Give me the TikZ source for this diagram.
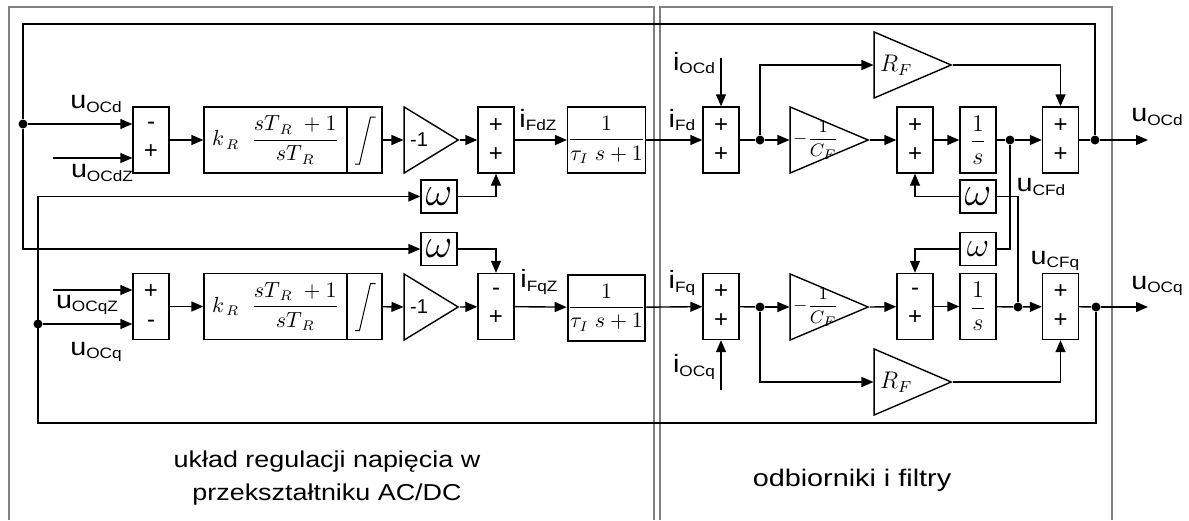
\documentclass[tikz,border=0pt]{standalone}
\usepackage{amsmath}
\usepackage{fontspec}
\setsansfont{Liberation Sans}
\usetikzlibrary{shapes.geometric,arrows.meta}

% signal name: letter with a lowered subscript in sans
\newcommand{\sig}[2]{\scalebox{1.15}[1]{\sffamily\fontsize{12.5}{12.5}\selectfont #1\raisebox{-1.6pt}{\fontsize{7.5}{7.5}\selectfont #2}}}
% integrator symbol inside the small box
\newcommand{\integ}[1]{\draw[line width=0.5pt] ([shift={(-9.5,24)}]#1.center) -- ++(4.5,0) -- ++(11,-47) -- ++(5,0);}

\begin{document}
\begin{tikzpicture}[x=0.5pt,y=-0.5pt,line width=0.7pt,>={Triangle[length=6pt,width=5pt]},
	sumbox/.style={draw,minimum width=18pt,minimum height=33pt,inner sep=0pt,align=center,font=\sffamily\fontsize{12}{14.5}\selectfont},
	tfbox/.style={draw,minimum height=33pt,inner sep=0pt,font=\fontsize{10.5}{12}\selectfont},
	wbox/.style={draw,minimum width=18pt,minimum height=16.5pt,inner sep=0pt,font=\fontsize{20}{20}\selectfont},
	gain/.style={draw,isosceles triangle,isosceles triangle stretches,inner sep=0pt,minimum width=33pt},
	gaintext/.style={anchor=west,inner sep=0pt},
	junct/.style={circle,fill,inner sep=0pt,minimum size=4.5pt},
	panel/.style={draw=gray,line width=0.8pt}]
	\useasboundingbox (0,0) rectangle (1189,520);

	% frames
	\draw[panel] (9,520) |- (654,7) -- (654,520);
	\draw[panel] (660,520) |- (1112,7) -- (1112,520);
	\coordinate (loopT) at (23,24);
	\coordinate (loopB) at (38,423);

	% voltage controller, d axis
	\node[junct] (dotLd) at (23,124) {};
	\coordinate (inLdZ) at (53,158);
	\node[sumbox] (sumLd) at (151,140) {-\\+};
	\node[tfbox,minimum width=71.5pt] (piLd) at (275.5,140) {$k_{\,R}\;\;\dfrac{sT_{\,R}\;+1}{sT_{\,R}}$};
	\node[tfbox,minimum width=17.5pt] (intLd) at (364.5,140) {};
	\integ{intLd}
	\node[gain,anchor=apex,minimum height=27pt] (gainLd) at (460,140) {};
	\node[gaintext,font=\sffamily\fontsize{10}{10}\selectfont] (txGainLd) at ([xshift=3pt]gainLd.lower side) {-1};
	\node[sumbox] (sumL2d) at (496,140) {+\\+};
	\node[tfbox,minimum width=35.5pt] (tfLd) at (606.5,140) {$\dfrac{1}{\tau_{I}\;s+1}$};
	\node[wbox] (omegaLd) at (439,196.5) {$\omega$};

	% voltage controller, q axis
	\node[junct] (dotLq) at (38,324) {};
	\coordinate (inLqZ) at (53,290);
	\node[sumbox] (sumLq) at (151,306.5) {+\\-};
	\node[tfbox,minimum width=71.5pt] (piLq) at (275.5,306.5) {$k_{\,R}\;\;\dfrac{sT_{\,R}\;+1}{sT_{\,R}}$};
	\node[tfbox,minimum width=17.5pt] (intLq) at (364.5,306.5) {};
	\integ{intLq}
	\node[gain,anchor=apex,minimum height=27pt] (gainLq) at (460,307) {};
	\node[gaintext,font=\sffamily\fontsize{10}{10}\selectfont] (txGainLq) at ([xshift=3pt]gainLq.lower side) {-1};
	\node[sumbox] (sumL2q) at (496,306.5) {-\\+};
	\node[tfbox,minimum width=35.5pt,line width=1pt] (tfLq) at (606.5,307.5) {$\dfrac{1}{\tau_{I}\;s+1}$};
	\node[wbox] (omegaLq) at (439,249) {$\omega$};

	% loads and filters, d axis
	\coordinate (inRd) at (721,58);
	\node[sumbox] (sumRd1) at (721,140) {+\\+};
	\node[junct] (dotRd1) at (760,140) {};
	\node[gain,anchor=apex,minimum height=39pt] (cfd) at (870,140) {};
	\node[gaintext,font=\fontsize{9.5}{10}\selectfont] (txCfd) at ([xshift=1.5pt]cfd.lower side) {$-\dfrac{1}{C_F}$};
	\node[gain,anchor=apex,minimum height=38.5pt] (rfd) at (953,65) {};
	\node[gaintext,font=\fontsize{12}{12}\selectfont] (txRfd) at ([xshift=3pt]rfd.lower side) {$R_F$};
	\node[sumbox] (sumRd2) at (915,140) {+\\+};
	\node[tfbox,minimum width=18pt,font=\fontsize{13}{14}\selectfont] (intRd) at (978,140) {$\dfrac{1}{s}$};
	\node[junct] (dotRd2) at (1010,140) {};
	\node[sumbox] (sumRd3) at (1060.5,140) {+\\+};
	\node[junct] (dotRd3) at (1095,140) {};
	\coordinate (outRd) at (1148,140);
	\node[wbox] (omegaRd) at (978,196.5) {$\omega$};

	% loads and filters, q axis
	\coordinate (inRq) at (721,390);
	\node[sumbox] (sumRq1) at (721,306.5) {+\\+};
	\node[junct] (dotRq1) at (760,307) {};
	\node[gain,anchor=apex,minimum height=39pt] (cfq) at (870,307) {};
	\node[gaintext,font=\fontsize{9.5}{10}\selectfont] (txCfq) at ([xshift=1.5pt]cfq.lower side) {$-\dfrac{1}{C_F}$};
	\node[gain,anchor=apex,minimum height=38.5pt] (rfq) at (953,382) {};
	\node[gaintext,font=\fontsize{12}{12}\selectfont] (txRfq) at ([xshift=3pt]rfq.lower side) {$R_F$};
	\node[sumbox] (sumRq2) at (915,306.5) {-\\+};
	\node[tfbox,minimum width=18pt,font=\fontsize{13}{14}\selectfont] (intRq) at (978,306.5) {$\dfrac{1}{s}$};
	\node[junct] (dotRq2) at (1018,307) {};
	\node[sumbox] (sumRq3) at (1060.5,306.5) {+\\+};
	\node[junct] (dotRq3) at (1096,307) {};
	\coordinate (outRq) at (1148,307);
	\node[wbox,font=\fontsize{16}{16}\selectfont] (omegaRq) at (978,249) {$\omega$};

	% connections, d axis
	\draw[->] (dotLd) -- (dotLd -| sumLd.west);
	\draw[->] (inLdZ) -- (inLdZ -| sumLd.west);
	\draw[->] (sumLd) -- (piLd);
	\draw[->] (intLd) -- (gainLd.lower side);
	\draw[->] (gainLd.apex) -- (sumL2d);
	\draw[->] (sumL2d) -- (tfLd);
	\draw[->] (omegaLd) -| (sumL2d);
	\draw[->] (tfLd) -- (sumRd1);
	\draw[->] (inRd) -- (sumRd1);
	\draw (sumRd1) -- (dotRd1);
	\draw[->] (dotRd1) -- (cfd.lower side);
	\draw[->] (dotRd1) |- (rfd.lower side);
	\draw[->] (cfd.apex) -- (sumRd2);
	\draw[->] (rfd.apex) -| (sumRd3);
	\draw[->] (sumRd2) -- (intRd);
	\draw (intRd) -- (dotRd2);
	\draw[->] (dotRd2) -- (sumRd3);
	\draw (sumRd3) -- (dotRd3);
	\draw[->] (dotRd3) -- (outRd);
	\draw (dotRd2) |- (omegaRq);
	\draw[->] (omegaRd) -| (sumRd2);

	% connections, q axis
	\draw[->] (dotLq) -- (dotLq -| sumLq.west);
	\draw[->] (inLqZ) -- (inLqZ -| sumLq.west);
	\draw[->] (sumLq) -- (piLq);
	\draw[->] (intLq) -- (gainLq.lower side);
	\draw[->] (gainLq.apex) -- (sumL2q);
	\draw[->] (sumL2q) -- (tfLq);
	\draw[->] (omegaLq) -| (sumL2q);
	\draw[->] (tfLq) -- (sumRq1);
	\draw[->] (inRq) -- (sumRq1);
	\draw (sumRq1) -- (dotRq1);
	\draw[->] (dotRq1) -- (cfq.lower side);
	\draw[->] (dotRq1) |- (rfq.lower side);
	\draw[->] (cfq.apex) -- (sumRq2);
	\draw[->] (rfq.apex) -| (sumRq3);
	\draw[->] (sumRq2) -- (intRq);
	\draw (intRq) -- (dotRq2);
	\draw[->] (dotRq2) -- (sumRq3);
	\draw (sumRq3) -- (dotRq3);
	\draw[->] (dotRq3) -- (outRq);
	\draw (dotRq2) |- (omegaRd);
	\draw[->] (omegaRq) -| (sumRq2);

	% outer feedback loops
	\draw (dotRd3) |- (loopT) -- (dotLd);
	\draw[->] (dotLd) |- (omegaLq);
	\draw[->] (dotRq3) |- (loopB) |- (omegaLd);

	% signal names
	\node (lbUd) at (96,104) {\sig{u}{OCd}};
	\node (lbUdZ) at (102,173) {\sig{u}{OCdZ}};
	\node (lbUqZ) at (87,305) {\sig{u}{OCqZ}};
	\node (lbUq) at (96,352) {\sig{u}{OCq}};
	\node (lbIdZ) at (538,120) {\sig{i}{FdZ}};
	\node (lbIqZ) at (539,282) {\sig{i}{FqZ}};
	\node (lbId) at (682,120) {\sig{i}{Fd}};
	\node (lbIq) at (682,283) {\sig{i}{Fq}};
	\node (lbIOd) at (694,63) {\sig{i}{OCd}};
	\node (lbIOq) at (694,367) {\sig{i}{OCq}};
	\node (lbUCd) at (1041,187) {\sig{u}{CFd}};
	\node (lbUCq) at (1055,261) {\sig{u}{CFq}};
	\node (lbUOd) at (1157,117) {\sig{u}{OCd}};
	\node (lbUOq) at (1157,286) {\sig{u}{OCq}};

	% panel captions
	\node[align=center,font=\sffamily\fontsize{11.5}{16.5}\selectfont] (capL) at (327,478) {\scalebox{1.17}[1]{układ regulacji napięcia w}\\\scalebox{1.17}[1]{przekształtniku AC/DC}};
	\node[font=\sffamily\fontsize{12}{14}\selectfont] (capR) at (852,480) {\scalebox{1.2}[1]{odbiorniki i filtry}};
\end{tikzpicture}
\end{document}
